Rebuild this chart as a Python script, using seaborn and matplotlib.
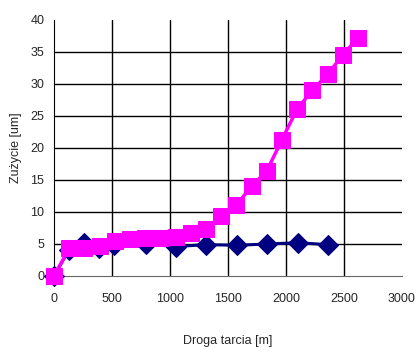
import pandas as pd
import numpy as np
import matplotlib
matplotlib.use("Agg")
import matplotlib.pyplot as plt
import seaborn as sns

# distances [m] and wear [um]
droga_a = [0, 130, 260, 390, 520, 790, 1050, 1310, 1580, 1840, 2100, 2360]
zuzycie_a = [0, 4.1, 5.1, 4.3, 4.9, 5.0, 4.6, 4.9, 4.8, 5.0, 5.2, 4.9]

droga_b = [0, 131, 262, 393, 524, 655, 786, 917, 1048, 1179, 1310, 1441,
           1572, 1703, 1834, 1965, 2096, 2227, 2358, 2489, 2620]
zuzycie_b = [0, 4.3, 4.3, 4.7, 5.4, 5.8, 5.9, 6.0, 6.1, 6.7, 7.4, 9.3,
             11.1, 14.0, 16.4, 21.3, 26.1, 29.0, 31.5, 34.5, 37.2]

x_ticks = [0, 500, 1000, 1500, 2000, 2500, 3000]
y_ticks = [0, 5, 10, 15, 20, 25, 30, 35, 40]

sns.set_style("white")
plt.rcParams['font.family'] = ['Liberation Sans', 'DejaVu Sans']

df_a = pd.DataFrame({"droga": droga_a, "zuzycie": zuzycie_a})
df_b = pd.DataFrame({"droga": droga_b, "zuzycie": zuzycie_b})

fig = plt.figure(figsize=(4.16, 3.5), dpi=100)
ax = fig.add_axes([54 / 416, 1 - 276 / 350, 348 / 416, 256 / 350])

sns.lineplot(data=df_a, x="droga", y="zuzycie", ax=ax, color="#000080",
             marker="D", markersize=10, markeredgecolor="#000080",
             linewidth=2.2, clip_on=False, zorder=3)
sns.lineplot(data=df_b, x="droga", y="zuzycie", ax=ax, color="#FF00FF",
             marker="s", markersize=12, markeredgecolor="#FF00FF",
             linewidth=2.5, clip_on=False, zorder=4)

ax.set_xlim(0, 3000)
ax.set_ylim(0, 40)
ax.set_xticks(x_ticks)
ax.set_yticks(y_ticks)
ax.tick_params(axis="both", labelsize=9, length=4, width=1, color="black",
               direction="out", pad=3)
ax.tick_params(axis="x", pad=8)

# grid lines like the spreadsheet original (none on the outer edges)
for y in y_ticks[1:-1]:
    ax.axhline(y, color="black", linewidth=1, zorder=1)
for x in x_ticks[1:-1]:
    ax.axvline(x, color="black", linewidth=1, zorder=1)

for side in ["top", "right"]:
    ax.spines[side].set_visible(False)
ax.spines["left"].set_color("black")
ax.spines["bottom"].set_color("#666666")

ax.set_xlabel("Droga tarcia [m]", fontsize=9, labelpad=22)
ax.set_ylabel("Zużycie [um]", fontsize=9, labelpad=6)

fig.savefig("out.png", dpi=100)
